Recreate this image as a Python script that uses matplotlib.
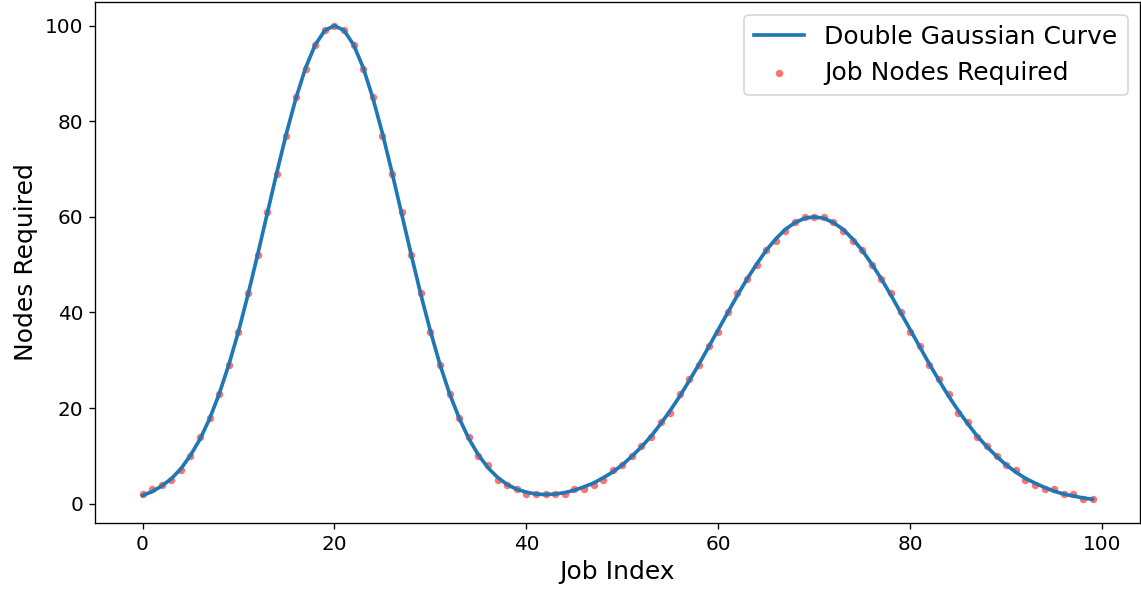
import matplotlib
matplotlib.use("Agg")
import matplotlib.pyplot as plt

job_index = list(range(100))

nodes_required = [
    2, 3, 4, 5, 7, 10, 14, 18, 23, 29,
    36, 44, 52, 61, 69, 77, 85, 91, 96, 99,
    100, 99, 96, 91, 85, 77, 69, 61, 52, 44,
    36, 29, 23, 18, 14, 10, 8, 5, 4, 3,
    2, 2, 2, 2, 2, 3, 3, 4, 5, 7,
    8, 10, 12, 14, 17, 19, 23, 26, 29, 33,
    36, 40, 44, 47, 50, 53, 55, 57, 59, 60,
    60, 60, 59, 57, 55, 53, 50, 47, 44, 40,
    36, 33, 29, 26, 23, 19, 17, 14, 12, 10,
    8, 7, 5, 4, 3, 3, 2, 2, 1, 1,
]

curve_values = [
    1.7, 2.5, 3.7, 5.2, 7.3, 10.1, 13.5, 17.8, 23.0, 29.1,
    36.0, 43.8, 52.1, 60.7, 69.3, 77.5, 84.9, 91.2, 96.0, 99.0,
    100.0, 99.0, 96.0, 91.2, 84.9, 77.5, 69.3, 60.7, 52.1, 43.8,
    36.1, 29.1, 23.0, 17.9, 13.6, 10.2, 7.5, 5.5, 4.0, 3.0,
    2.4, 2.0, 1.9, 2.0, 2.3, 2.8, 3.5, 4.3, 5.4, 6.6,
    8.1, 9.9, 11.9, 14.1, 16.7, 19.5, 22.5, 25.8, 29.2, 32.8,
    36.4, 40.0, 43.6, 47.0, 50.1, 53.0, 55.4, 57.4, 58.8, 59.7,
    60.0, 59.7, 58.8, 57.4, 55.4, 53.0, 50.1, 47.0, 43.6, 40.0,
    36.4, 32.8, 29.2, 25.8, 22.5, 19.5, 16.7, 14.1, 11.9, 9.9,
    8.1, 6.6, 5.3, 4.3, 3.4, 2.6, 2.0, 1.6, 1.2, 0.9,
]

DPI = 120
fig = plt.figure(figsize=(1141 / DPI, 592 / DPI), dpi=DPI)
ax = fig.add_axes([95 / 1141, 1 - 523 / 592, (1140 - 95) / 1141, (523 - 2) / 592])

sc = ax.scatter(job_index, nodes_required, color="red", alpha=0.55, s=20,
                linewidths=0, label="Job Nodes Required", zorder=2)
ln, = ax.plot(job_index, curve_values, color="#1f77b4", lw=2.2,
              label="Double Gaussian Curve", zorder=3)

ax.set_xlabel("Job Index", fontsize=15)
ax.set_ylabel("Nodes Required", fontsize=15)
ax.tick_params(labelsize=12)
ax.legend(handles=[ln, sc], loc="upper right", fontsize=15)

fig.savefig("out.png", dpi=DPI)
